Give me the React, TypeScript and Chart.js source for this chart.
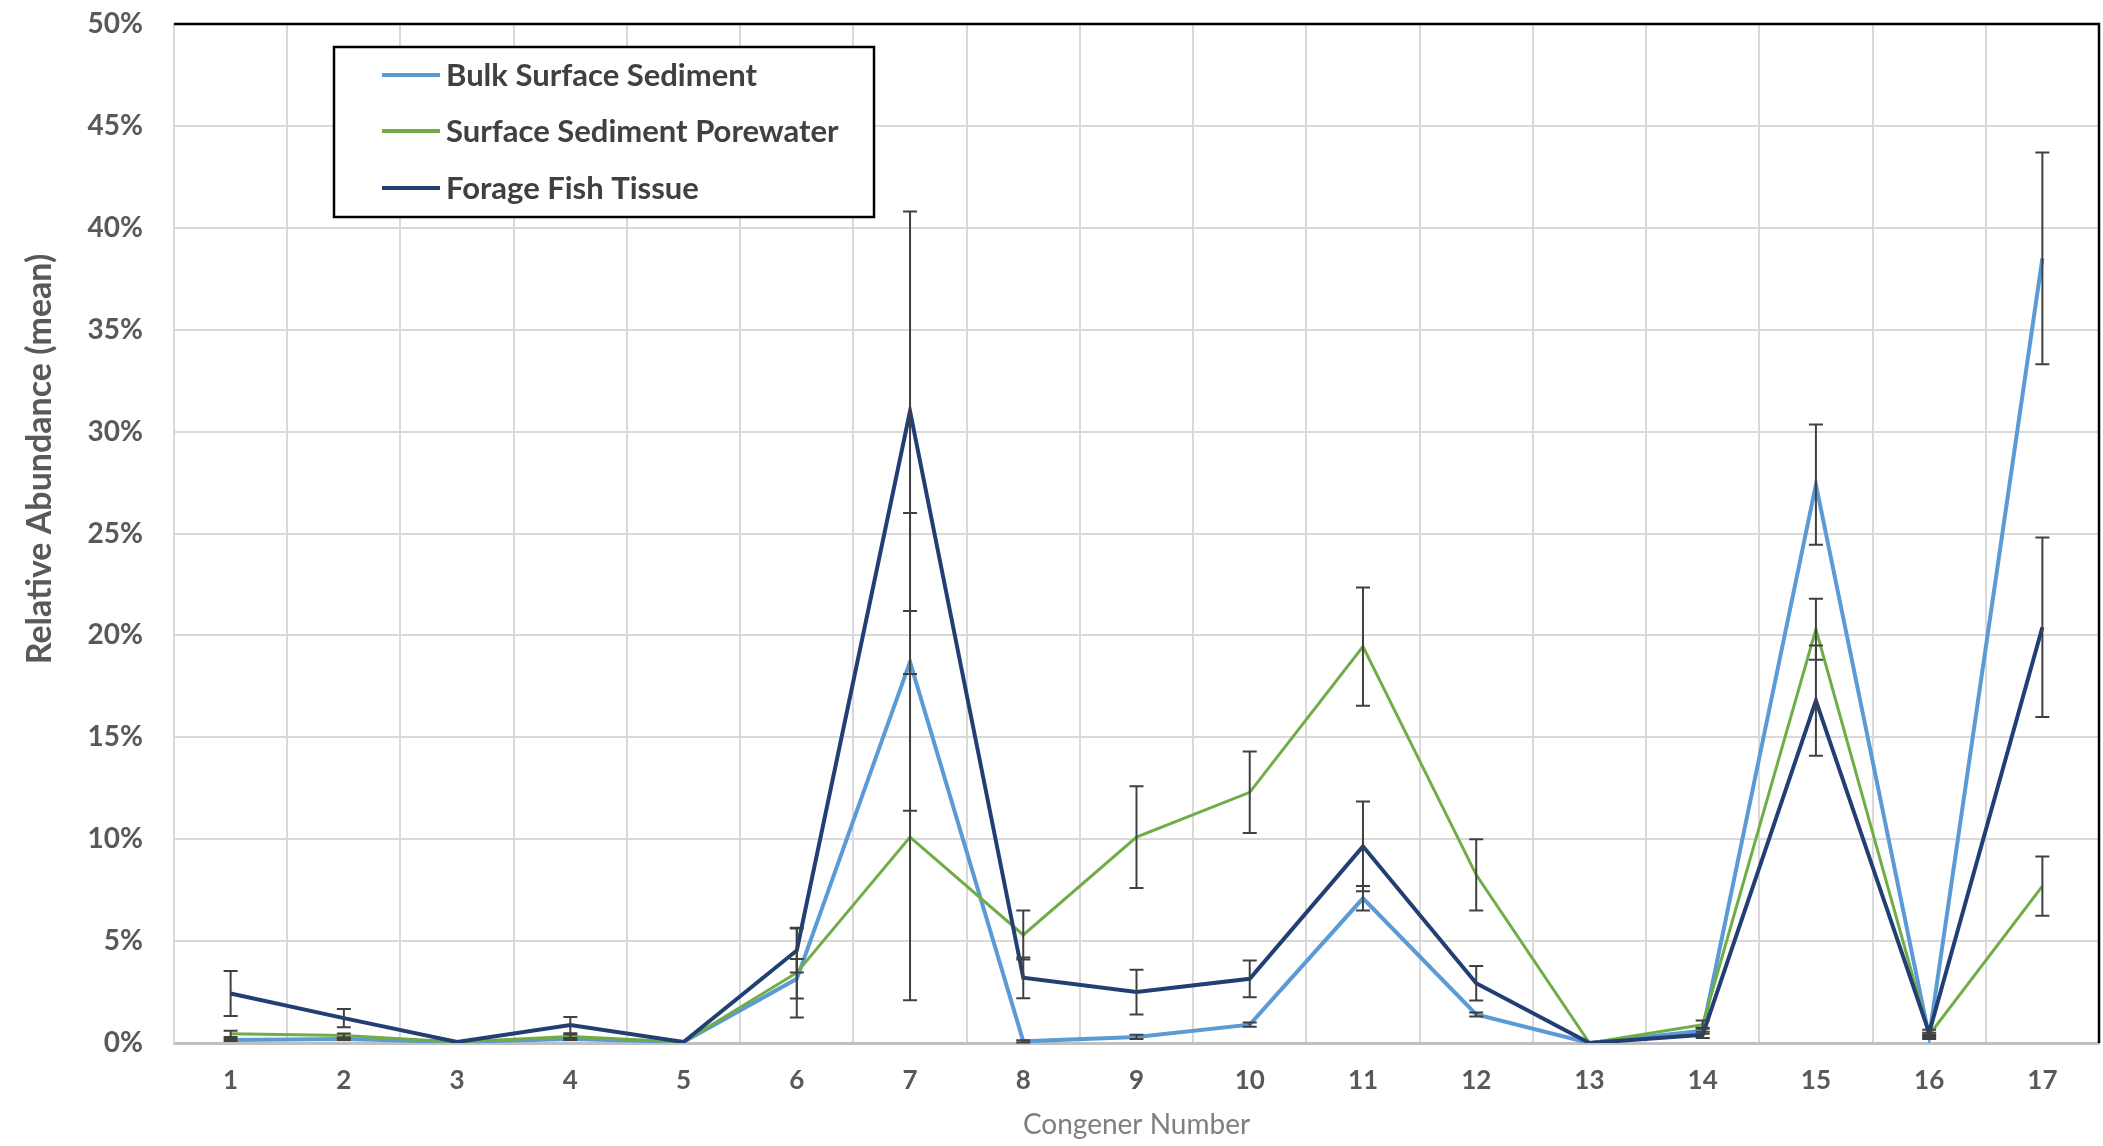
import React, { useEffect, useRef } from 'react';
import { Chart, registerables } from 'chart.js';

Chart.register(...registerables);

const categories = ['1', '2', '3', '4', '5', '6', '7', '8', '9', '10', '11', '12', '13', '14', '15', '16', '17'];

const seriesNames = ['Bulk Surface Sediment', 'Surface Sediment Porewater', 'Forage Fish Tissue'];
const seriesColors = ['#5B9BD5', '#70AD47', '#223F74'];

const bulkValues = [0.15, 0.2, 0.05, 0.2, 0.05, 3.15, 18.7, 0.08, 0.3, 0.9, 7.1, 1.4, 0.0, 0.6, 27.4, 0.3, 38.5];
const poreValues = [0.45, 0.37, 0.05, 0.32, 0.05, 3.45, 10.1, 5.3, 10.1, 12.3, 19.45, 8.25, 0.0, 0.9, 20.3, 0.4, 7.7];
const fishValues = [2.43, 1.22, 0.05, 0.88, 0.05, 4.54, 31.0, 3.2, 2.5, 3.15, 9.65, 2.93, 0.0, 0.4, 16.8, 0.5, 20.4];

const bulkErrors = [0.05, 0.05, 0, 0.05, 0, 0.97, 7.3, 0.05, 0.1, 0.1, 0.6, 0.1, 0, 0.15, 2.95, 0.1, 5.2];
const poreErrors = [0.15, 0.1, 0, 0.1, 0, 2.2, 8.0, 1.2, 2.5, 2.0, 2.9, 1.75, 0, 0.2, 1.5, 0.1, 1.45];
const fishErrors = [1.1, 0.45, 0, 0.4, 0, 1.08, 9.8, 1.0, 1.1, 0.9, 2.2, 0.85, 0, 0.15, 2.7, 0.15, 4.4];

const yTicks = [0, 5, 10, 15, 20, 25, 30, 35, 40, 45, 50];

const xTitle = 'Congener Number';
const yTitle = 'Relative Abundance (mean)';

const FONT = "Lato, 'Open Sans', sans-serif";

export default function App() {
  const ref = useRef<HTMLCanvasElement | null>(null);

  useEffect(() => {
    if (!ref.current) return;
    const errorSets = [bulkErrors, poreErrors, fishErrors];

    const errorBars = {
      id: 'errorBars',
      afterDatasetsDraw(chart: any) {
        const ctx = chart.ctx;
        const ys = chart.scales.y;
        ctx.save();
        ctx.strokeStyle = '#404040';
        ctx.lineWidth = 2;
        chart.data.datasets.forEach((ds: any, i: number) => {
          const meta = chart.getDatasetMeta(i);
          const errs = errorSets[i];
          meta.data.forEach((pt: any, j: number) => {
            const e = errs[j];
            if (!e) return;
            const v = ds.data[j] as number;
            const x = pt.x;
            const top = ys.getPixelForValue(v + e);
            const bot = ys.getPixelForValue(Math.max(0, v - e));
            ctx.beginPath();
            ctx.moveTo(x, top);
            ctx.lineTo(x, bot);
            ctx.moveTo(x - 7, top);
            ctx.lineTo(x + 7, top);
            ctx.moveTo(x - 7, bot);
            ctx.lineTo(x + 7, bot);
            ctx.stroke();
          });
        });
        ctx.restore();
      },
    };

    const decorations = {
      id: 'decorations',
      afterDraw(chart: any) {
        const ctx = chart.ctx;
        const a = chart.chartArea;
        ctx.save();
        ctx.strokeStyle = '#000000';
        ctx.lineWidth = 2.5;
        ctx.beginPath();
        ctx.moveTo(a.left, a.top);
        ctx.lineTo(a.right, a.top);
        ctx.lineTo(a.right, a.bottom);
        ctx.stroke();

        ctx.fillStyle = '#595959';
        ctx.font = `bold 34px ${FONT}`;
        ctx.textAlign = 'center';
        ctx.textBaseline = 'middle';
        ctx.translate(40, 459);
        ctx.rotate(-Math.PI / 2);
        ctx.fillText(yTitle, 0, 0);
        ctx.restore();

        ctx.save();
        const bx = 334, by = 47, bw = 540, bh = 170;
        ctx.fillStyle = '#ffffff';
        ctx.fillRect(bx, by, bw, bh);
        ctx.strokeStyle = '#000000';
        ctx.lineWidth = 2.5;
        ctx.strokeRect(bx, by, bw, bh);
        const rows = [75, 131, 188];
        ctx.font = `bold 31px ${FONT}`;
        ctx.textAlign = 'left';
        ctx.textBaseline = 'middle';
        seriesNames.forEach((name, i) => {
          const y = rows[i];
          ctx.strokeStyle = seriesColors[i];
          ctx.lineWidth = 4;
          ctx.beginPath();
          ctx.moveTo(382, y);
          ctx.lineTo(440, y);
          ctx.stroke();
          ctx.fillStyle = '#404040';
          ctx.fillText(name, 446, y + 1);
        });
        ctx.restore();
      },
    };

    const chart = new Chart(ref.current, {
      type: 'line',
      data: {
        labels: categories,
        datasets: [
          {
            label: seriesNames[0],
            data: bulkValues,
            borderColor: seriesColors[0],
            backgroundColor: seriesColors[0],
            borderWidth: 4,
            pointRadius: 0,
            tension: 0,
            order: 2,
          },
          {
            label: seriesNames[1],
            data: poreValues,
            borderColor: seriesColors[1],
            backgroundColor: seriesColors[1],
            borderWidth: 3,
            pointRadius: 0,
            tension: 0,
            order: 1,
          },
          {
            label: seriesNames[2],
            data: fishValues,
            borderColor: seriesColors[2],
            backgroundColor: seriesColors[2],
            borderWidth: 4,
            pointRadius: 0,
            tension: 0,
            order: 0,
          },
        ],
      },
      options: {
        animation: false,
        responsive: false,
        maintainAspectRatio: false,
        layout: { padding: { left: 0, right: 4, top: 24, bottom: 0 } },
        plugins: {
          legend: { display: false },
          tooltip: { enabled: false },
        },
        scales: {
          x: {
            offset: true,
            grid: { offset: true, color: '#D9D9D9', lineWidth: 2, drawTicks: false },
            border: { color: '#BFBFBF', width: 3 },
            ticks: {
              padding: 22,
              color: '#595959',
              font: { family: FONT, size: 26, weight: 'bold' },
            },
            title: {
              display: true,
              text: xTitle,
              color: '#7F7F7F',
              font: { family: FONT, size: 28, weight: 'normal' },
              padding: { top: 0, bottom: 4 },
            },
            afterFit(scale: any) {
              scale.height = 103;
              scale.paddingLeft = 0;
              scale.paddingRight = 0;
            },
          },
          y: {
            min: 0,
            max: 50,
            afterBuildTicks(scale: any) {
              scale.ticks = yTicks.map((v) => ({ value: v }));
            },
            grid: { color: '#D9D9D9', lineWidth: 2, drawTicks: false },
            border: { color: '#D9D9D9', width: 2 },
            ticks: {
              padding: 31,
              color: '#595959',
              font: { family: FONT, size: 28, weight: 'bold' },
              callback: (v: any) => `${v}%`,
            },
            afterFit(scale: any) {
              scale.width = 174;
              scale.paddingTop = 0;
              scale.paddingBottom = 0;
            },
          },
        },
      },
      plugins: [errorBars, decorations],
    } as any);

    return () => chart.destroy();
  }, []);

  return (
    <div style={{ position: 'fixed', left: 0, top: 0, width: 2103, height: 1146, background: '#ffffff' }}>
      <canvas ref={ref} width={2103} height={1146} style={{ display: 'block' }} />
    </div>
  );
}
